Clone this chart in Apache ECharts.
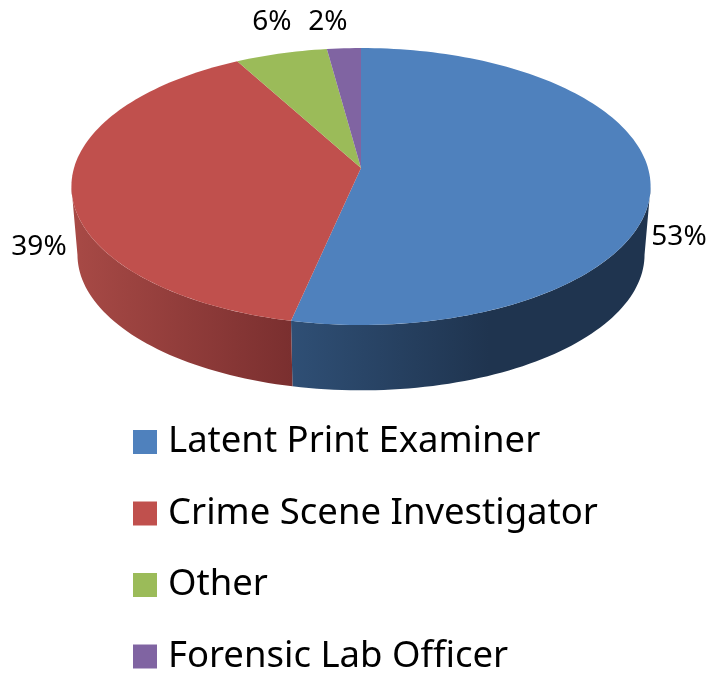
<!DOCTYPE html>
<html><head><meta charset="utf-8">
<style>html,body{margin:0;padding:0;background:#fff}#c{width:709px;height:675px}</style>
<script src="https://cdn.jsdelivr.net/npm/echarts@6/dist/echarts.min.js"></script>
</head><body><div id="c"></div>
<script>
// Data
var categories = ['Latent Print Examiner', 'Crime Scene Investigator', 'Other', 'Forensic Lab Officer'];
var shares = [53.4, 38.6, 5.85, 2.15];
var labels = ['53%', '39%', '6%', '2%'];

// Styles
var topColors = ['#4F81BD', '#C0504D', '#9BBB59', '#8064A2'];
var wallStops = [
  [[0, '#2F4F75'], [0.55, '#1F344F'], [1, '#1F344F']],
  [[0, '#A84A46'], [1, '#7A2F2F']],
  null, null
];
var labelAt = [[679, 237], [39, 247], [272, 22], [328, 22]];
var FONT = '"Noto Sans"';

// Projection of the tilted disc (perspective)
var cx = 361, k = 0.1336;
var topDisc = {a: 287, b: 136, y0: 168};
var baseDisc = {a: 281, b: 133.3, y0: 236.5};
function project(d, thetaDeg) {
  var t = thetaDeg * Math.PI / 180, X = Math.sin(t), Y = Math.cos(t), w = 1 + k * Y;
  return [cx + d.a * X / w, d.y0 - d.b * Y / w];
}
function arc(d, from, to) {
  var pts = [], n = Math.max(2, Math.ceil(Math.abs(to - from) / 1.5));
  for (var i = 0; i <= n; i++) pts.push(project(d, from + (to - from) * i / n));
  return pts;
}
var rimR = Math.acos(-k) * 180 / Math.PI, rimL = 360 - rimR;

var spans = [], acc = 0;
shares.forEach(function (v) { spans.push([acc * 3.6, (acc + v) * 3.6]); acc += v; });

function render(idx) {
  return function () {
    var s = spans[idx], children = [];
    var a = Math.max(s[0], rimR), b = Math.min(s[1], rimL);
    if (b > a && wallStops[idx]) {
      var pts = arc(topDisc, a, b).concat(arc(baseDisc, b, a));
      var stops = wallStops[idx].map(function (t) { return {offset: t[0], color: t[1]}; });
      children.push({type: 'polygon', shape: {points: pts},
        style: {fill: new echarts.graphic.LinearGradient(0, 0, 1, 0, stops)}});
    }
    var face = [[cx, topDisc.y0]].concat(arc(topDisc, s[0], s[1]));
    children.push({type: 'polygon', shape: {points: face}, style: {fill: topColors[idx]}});
    children.push({type: 'text', x: labelAt[idx][0], y: labelAt[idx][1],
      style: {text: labels[idx], font: '28px ' + FONT, fill: '#000', align: 'center', verticalAlign: 'middle'}});
    return {type: 'group', children: children};
  };
}

var chart = echarts.init(document.getElementById('c'), null, {renderer: 'canvas'});
chart.setOption({
  animation: false,
  backgroundColor: '#fff',
  legend: {
    data: categories, orient: 'vertical', left: 133, top: 423.5, padding: 0,
    icon: 'rect', itemWidth: 24, itemHeight: 24, itemGap: 34.5, height: 280,
    selectedMode: false,
    textStyle: {fontFamily: 'Noto Sans', fontSize: 36.5, color: '#000', padding: [0, 0, 4, 6]}
  },
  series: categories.map(function (name, i) {
    return {
      type: 'custom', name: name, coordinateSystem: 'none',
      data: [[shares[i]]], renderItem: render(i),
      itemStyle: {color: topColors[i]}, silent: true
    };
  })
});
</script></body></html>
